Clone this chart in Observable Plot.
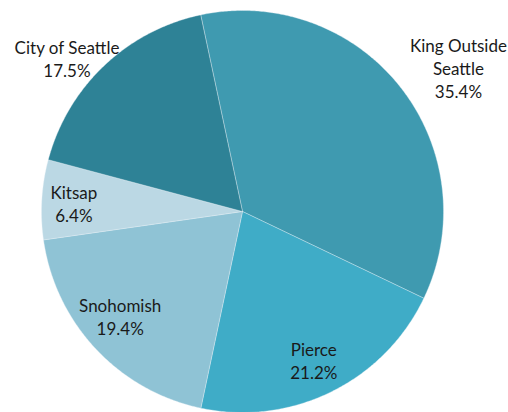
<!DOCTYPE html>
<html><head><meta charset="utf-8">
<script src="https://cdn.jsdelivr.net/npm/d3@7"></script>
<script src="https://cdn.jsdelivr.net/npm/@observablehq/plot@0.6"></script>
<style>html,body{margin:0;padding:0;background:#fff}</style>
</head><body><div id="chart"></div>
<script>
// Data
const regions = ["King Outside Seattle", "Pierce", "Snohomish", "Kitsap", "City of Seattle"];
const shares = [35.4, 21.2, 19.4, 6.4, 17.5];
const labelNames = [["King Outside", "Seattle"], ["Pierce"], ["Snohomish"], ["Kitsap"], ["City of Seattle"]];
const sliceColors = ["#3f9ab0", "#3facc7", "#8fc3d5", "#bbd8e4", "#2e8296"];

// Layout (not data)
const W = 508, H = 412, cx = 242, cy = 211, R = 201;
const startDeg = -12;
const labelPlacement = {
  "King Outside Seattle": {k: 1.29, shift: 4.6},
  "Pierce": {k: 0.82, shift: 0.6},
  "Snohomish": {k: 0.80, shift: 2.6},
  "Kitsap": {k: 0.84, shift: -0.7},
  "City of Seattle": {k: 1.16, shift: -5.3}
};

const total = d3.sum(shares);
const rad = d => d * Math.PI / 180;
const pts = [];
const labels = [];
let a0 = startDeg;
regions.forEach((name, i) => {
  const span = shares[i] / total * 360;
  const a1 = a0 + span;
  pts.push({name, x: 0, y: 0});
  const n = Math.max(2, Math.ceil(span / 0.5));
  for (let j = 0; j <= n; j++) {
    const a = rad(a0 + span * j / n);
    pts.push({name, x: Math.sin(a), y: Math.cos(a)});
  }
  pts.push({name, x: 0, y: 0});
  const p = labelPlacement[name];
  const am = rad(a0 + span / 2 + p.shift);
  labels.push({
    name,
    x: p.k * Math.sin(am),
    y: p.k * Math.cos(am),
    text: [...labelNames[i], shares[i].toFixed(1) + "%"].join("\n")
  });
  a0 = a1;
});

const chart = Plot.plot({
  width: W,
  height: H,
  margin: 0,
  style: {background: "#fff", fontFamily: "Lato, sans-serif"},
  x: {domain: [-cx / R, (W - cx) / R], axis: null},
  y: {domain: [-(H - cy) / R, cy / R], axis: null},
  color: {domain: regions, range: sliceColors},
  marks: [
    Plot.line(pts, {x: "x", y: "y", z: "name", fill: "name", stroke: "#e8f2f5", strokeWidth: 0.5, strokeOpacity: 0.7, curve: "linear"}),
    Plot.text(labels, {x: "x", y: "y", text: "text", fontSize: 17, lineHeight: 1.36, fill: "#1a1a1a", textAnchor: "middle", lineAnchor: "middle"})
  ]
});
document.getElementById("chart").appendChild(chart);
</script>
</body></html>
